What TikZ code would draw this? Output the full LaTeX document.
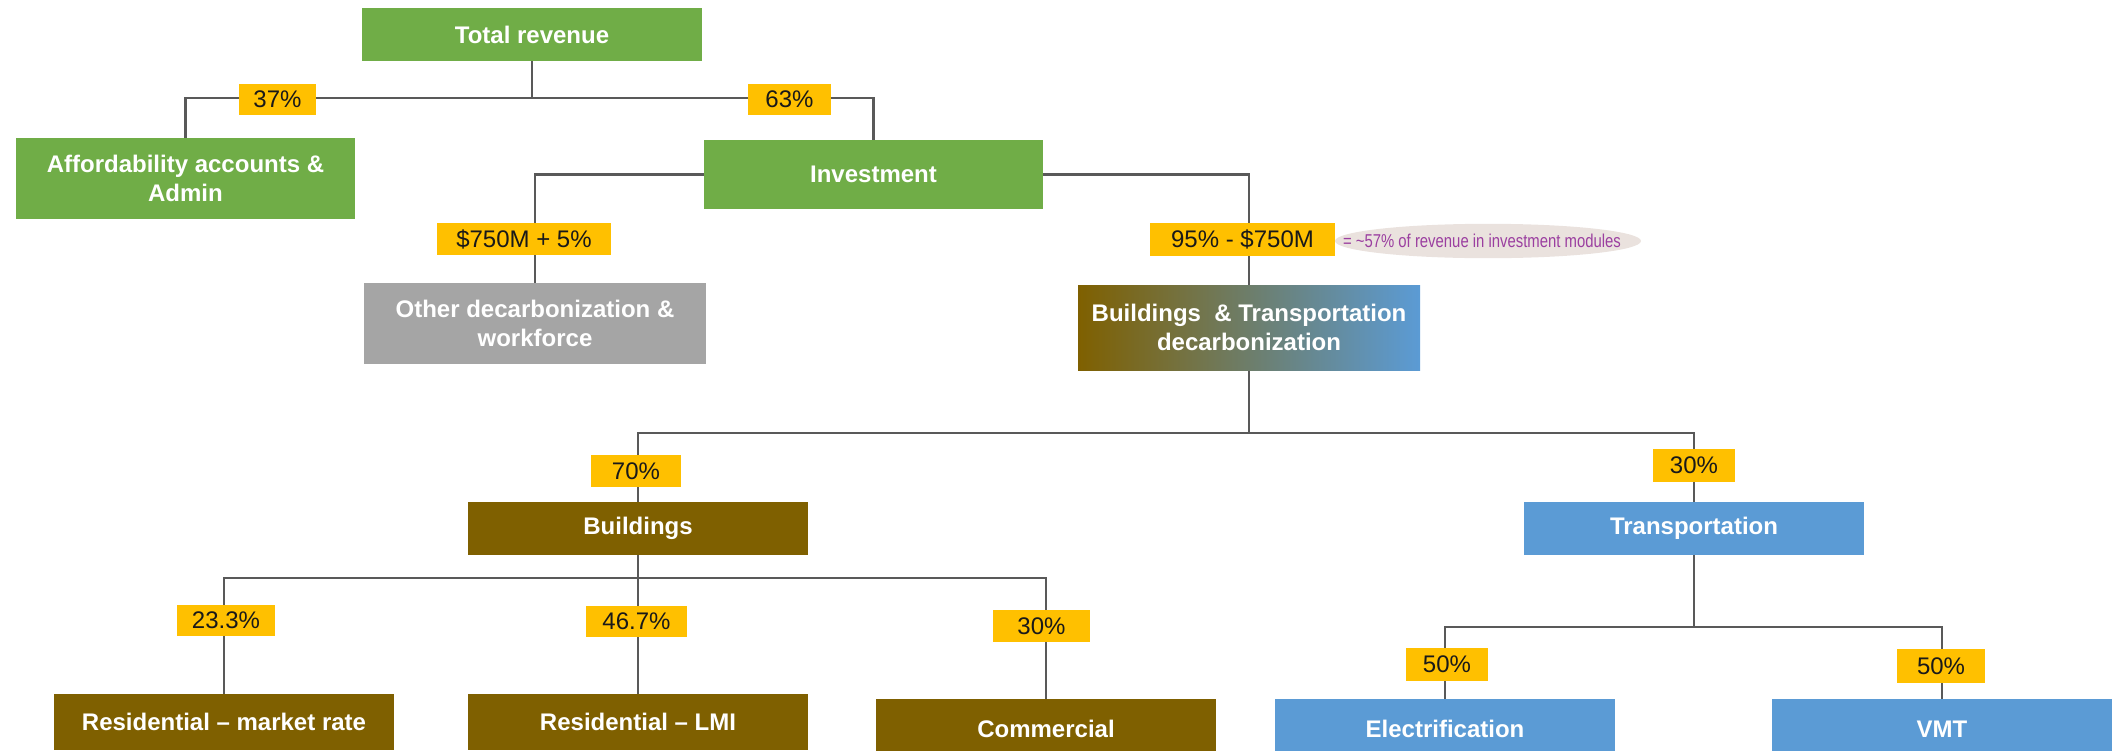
\documentclass[tikz,border=0pt]{standalone}
\usepackage{fontspec}
\setmainfont{Liberation Sans}
\newfontfamily\narrowfont{Liberation Sans}[FakeStretch=0.80]
\usetikzlibrary{backgrounds,shapes.geometric}
\definecolor{cgreen}{HTML}{70AD47}
\definecolor{cgrey}{HTML}{A5A5A5}
\definecolor{cbrown}{HTML}{7F6000}
\definecolor{cblue}{HTML}{5B9BD5}
\definecolor{cyellow}{HTML}{FFC000}
\definecolor{cline}{HTML}{595959}
\definecolor{cnote}{HTML}{EAE2DE}
\definecolor{cpurple}{HTML}{9B3FA0}
\begin{document}
\begin{tikzpicture}[x=0.5pt,y=-0.5pt,
  box/.style={rectangle, inner sep=0pt, text=white, font=\bfseries\fontsize{12}{14.5}\selectfont, align=center},
  gbox/.style={box, fill=cgreen},
  bbox/.style={box, fill=cbrown},
  tbox/.style={box, fill=cblue},
  pct/.style={rectangle, fill=cyellow, inner sep=0pt, text=black!90, font=\fontsize{12}{14}\selectfont},
  conn/.style={draw=cline, line width=1.2pt}]
\useasboundingbox (0,0) rectangle (2116,750);
\clip (0,0) rectangle (2116,750);
% boxes
\node[gbox, minimum width=170pt, minimum height=26.5pt] (tot) at (532,34.5) {Total revenue};
\node[gbox, minimum width=169.5pt, minimum height=40.5pt] (aff) at (185.5,178.5) {Affordability accounts \&\\Admin};
\node[gbox, minimum width=169.5pt, minimum height=34.5pt] (inv) at (873.5,174.5) {Investment};
\node[box, fill=cgrey, minimum width=171pt, minimum height=40.5pt] (oth) at (535,323.5) {Other decarbonization \&\\workforce};
\node[box, left color=cbrown, right color=cblue, minimum width=171pt, minimum height=42.5pt] (bt) at (1249,327.5) {Buildings \ \& Transportation\\decarbonization};
\node[bbox, minimum width=170pt, minimum height=26.5pt] (bld) at (638,528.5) {Buildings};
\node[tbox, minimum width=170pt, minimum height=26.5pt] (trn) at (1694,528.5) {Transportation};
\node[bbox, minimum width=170pt, minimum height=28pt] (rmr) at (224,722) {Residential -- market rate};
\node[bbox, minimum width=170pt, minimum height=28pt] (lmi) at (638,722) {Residential -- LMI};
\node[bbox, minimum width=170pt, minimum height=30pt] (com) at (1046,729) {Commercial};
\node[tbox, minimum width=170pt, minimum height=30pt] (ele) at (1445,729) {Electrification};
\node[tbox, minimum width=170pt, minimum height=30pt] (vmt) at (1942,729) {VMT};
% note (ellipse drawn behind)
\node[inner sep=0pt, text=cpurple, font=\narrowfont\fontsize{9.3}{11}\selectfont] (note) at (1482,241) {= \textasciitilde57\% of revenue in investment modules};
% percentage labels
\node[pct, minimum width=38.5pt, minimum height=15.5pt] (p37) at (277.5,99.5) {37\%};
\node[pct, minimum width=41.5pt, minimum height=15.5pt] (p63) at (789.5,99.5) {63\%};
\node[pct, minimum width=87pt, minimum height=16pt] (p750) at (524,239) {\$750M + 5\%};
\node[pct, minimum width=92.5pt, minimum height=16.5pt] (p95) at (1242.5,239.5) {95\% - \$750M};
\node[pct, minimum width=45pt, minimum height=16pt] (p70) at (636,471) {70\%};
\node[pct, minimum width=41pt, minimum height=16.5pt] (p30a) at (1694,465.5) {30\%};
\node[pct, minimum width=49pt, minimum height=15.5pt] (p233) at (226,620.5) {23.3\%};
\node[pct, minimum width=50.5pt, minimum height=15.5pt] (p467) at (636.5,621.5) {46.7\%};
\node[pct, minimum width=48.5pt, minimum height=16pt] (p30b) at (1041.5,626) {30\%};
\node[pct, minimum width=41pt, minimum height=16.5pt] (p50a) at (1447,664.5) {50\%};
\node[pct, minimum width=44pt, minimum height=17pt] (p50b) at (1941,666) {50\%};
% connectors
\begin{scope}[on background layer]
\fill[cnote] (1488,241) ellipse [x radius=76.5pt, y radius=8.6pt];
\coordinate (j1) at (532,98);
\coordinate (j2) at (1249,433);
\coordinate (j3) at (638,578);
\coordinate (j4) at (1694,627);
\draw[conn] (tot.south) -- (j1);
\draw[conn] (aff.north) |- (j1) -| (inv.north);
\draw[conn] (inv.west) -| (oth.north);
\draw[conn] (inv.east) -| (bt.north);
\draw[conn] (bt.south) -- (j2);
\draw[conn] (bld.north) |- (j2) -| (trn.north);
\draw[conn] (bld.south) -- (j3) -- (lmi.north);
\draw[conn] (rmr.north) |- (j3) -| (com.north);
\draw[conn] (trn.south) -- (j4);
\draw[conn] (ele.north) |- (j4) -| (vmt.north);
\end{scope}
\end{tikzpicture}
\end{document}
